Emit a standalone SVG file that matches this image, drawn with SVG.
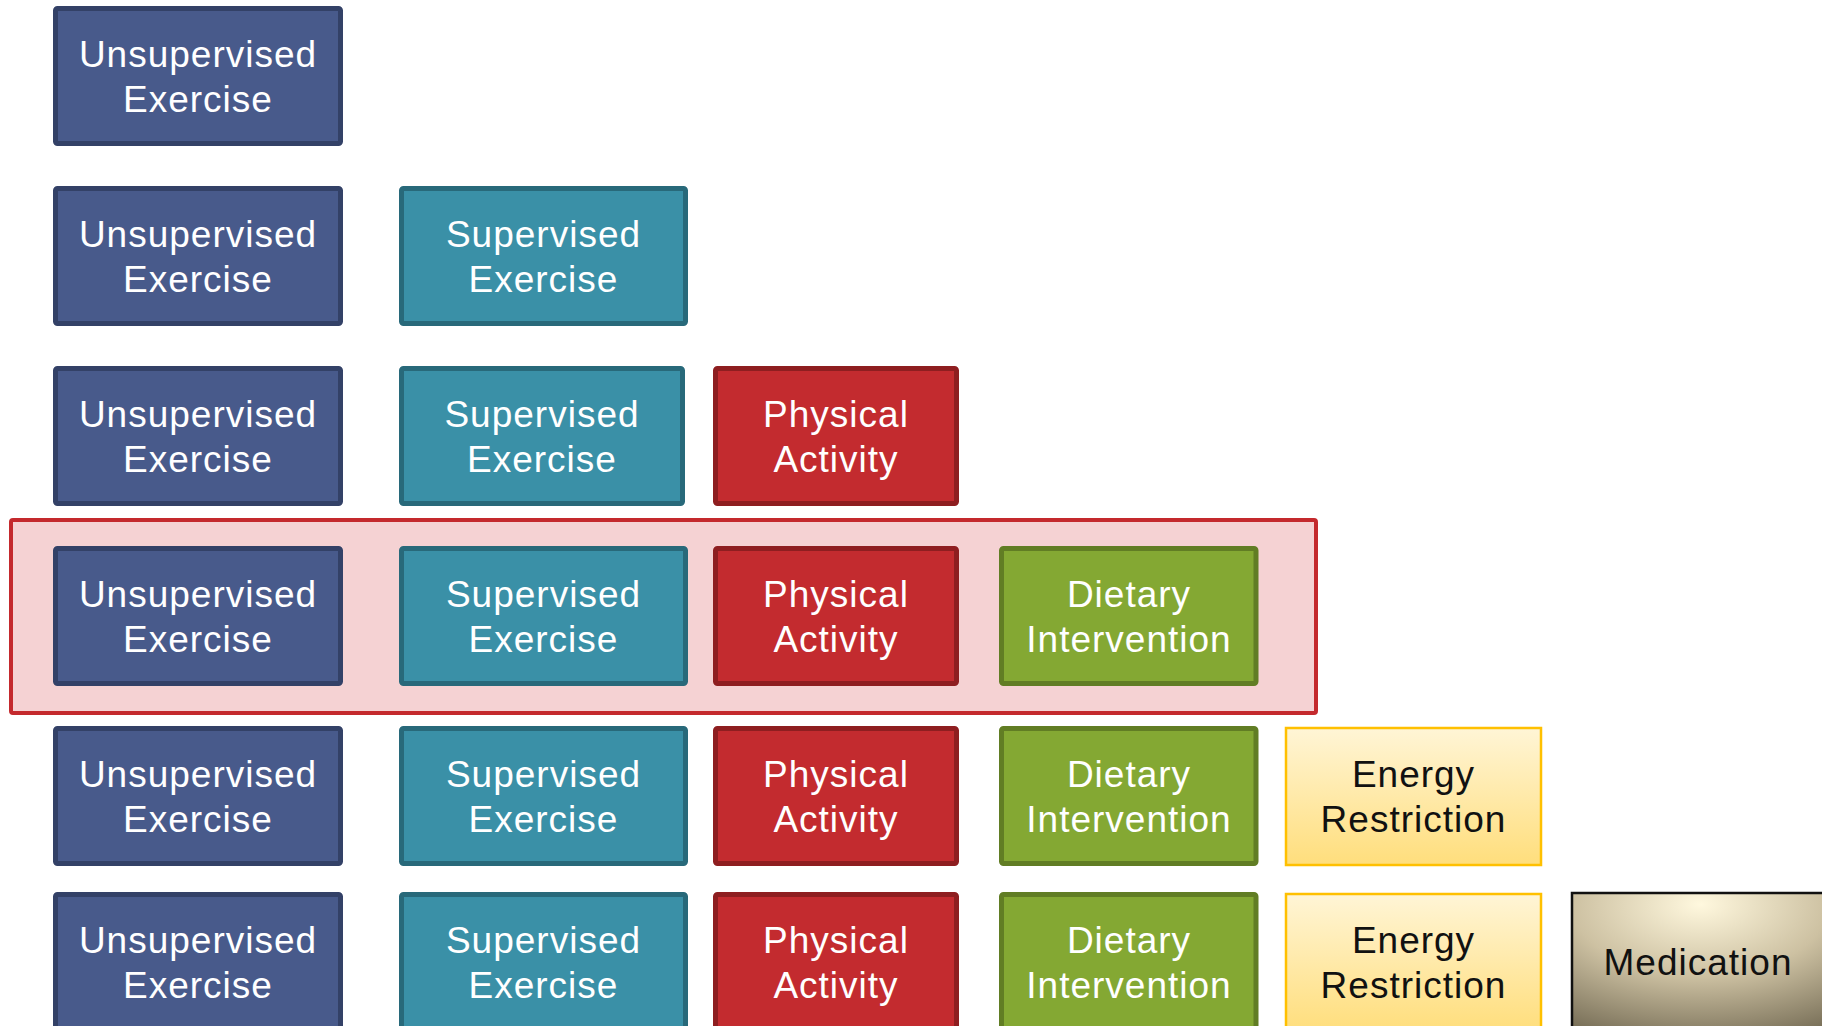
<svg xmlns="http://www.w3.org/2000/svg" width="1822" height="1026" viewBox="0 0 1822 1026">
<defs>
<linearGradient id="gEnergy" x1="0" y1="0" x2="0" y2="1">
<stop offset="0" stop-color="#FFF5D6"/>
<stop offset="1" stop-color="#FFDE7C"/>
</linearGradient>
<radialGradient id="gMed" cx="0.5" cy="0.1" r="1" fx="0.5" fy="0.08">
<stop offset="0" stop-color="#FFF8DE"/>
<stop offset="0.5" stop-color="#CDC1A2"/>
<stop offset="1" stop-color="#766D56"/>
</radialGradient>
<style>
.u{fill:#485A8B;stroke:#334167;stroke-width:5}
.s{fill:#3A90A7;stroke:#28697A;stroke-width:5}
.p{fill:#C32B2F;stroke:#8E1E20;stroke-width:5}
.d{fill:#84A833;stroke:#617D24;stroke-width:5}
.e{fill:url(#gEnergy);stroke:#FFC000;stroke-width:2.5}
.m{fill:url(#gMed);stroke:#111111;stroke-width:2.5}
text{font-family:"Liberation Sans",Arial,sans-serif;font-size:37px;letter-spacing:1px;text-anchor:middle}
.w{fill:#FFFFFF}
.k{fill:#111111}
</style>
</defs>
<rect width="1822" height="1026" fill="#FFFFFF"/>
<g id="highlight">
<rect x="11" y="520" width="1305" height="193" rx="2" fill="#F5D2D3" stroke="#C4292D" stroke-width="4"/>
</g>
<g id="connectors"></g>

<!-- Row 1 -->
<g id="r1-unsup"><rect class="u" x="55.5" y="8.5" width="285" height="135" rx="2"/><text class="w" x="198" y="67">Unsupervised</text><text class="w" x="198" y="112">Exercise</text></g>

<!-- Row 2 -->
<g id="r2-unsup"><rect class="u" x="55.5" y="188.5" width="285" height="135" rx="2"/><text class="w" x="198" y="247">Unsupervised</text><text class="w" x="198" y="292">Exercise</text></g>
<g id="r2-sup"><rect class="s" x="401.5" y="188.5" width="284" height="135" rx="2"/><text class="w" x="543.5" y="247">Supervised</text><text class="w" x="543.5" y="292">Exercise</text></g>

<!-- Row 3 -->
<g id="r3-unsup"><rect class="u" x="55.5" y="368.5" width="285" height="135" rx="2"/><text class="w" x="198" y="427">Unsupervised</text><text class="w" x="198" y="472">Exercise</text></g>
<g id="r3-sup"><rect class="s" x="401.5" y="368.5" width="281" height="135" rx="2"/><text class="w" x="542" y="427">Supervised</text><text class="w" x="542" y="472">Exercise</text></g>
<g id="r3-phys"><rect class="p" x="715.5" y="368.5" width="241" height="135" rx="2"/><text class="w" x="836" y="427">Physical</text><text class="w" x="836" y="472">Activity</text></g>

<!-- Row 4 -->
<g id="r4-unsup"><rect class="u" x="55.5" y="548.5" width="285" height="135" rx="2"/><text class="w" x="198" y="607">Unsupervised</text><text class="w" x="198" y="652">Exercise</text></g>
<g id="r4-sup"><rect class="s" x="401.5" y="548.5" width="284" height="135" rx="2"/><text class="w" x="543.5" y="607">Supervised</text><text class="w" x="543.5" y="652">Exercise</text></g>
<g id="r4-phys"><rect class="p" x="715.5" y="548.5" width="241" height="135" rx="2"/><text class="w" x="836" y="607">Physical</text><text class="w" x="836" y="652">Activity</text></g>
<g id="r4-diet"><rect class="d" x="1001.5" y="548.5" width="254.5" height="135" rx="2"/><text class="w" x="1129" y="607">Dietary</text><text class="w" x="1129" y="652">Intervention</text></g>

<!-- Row 5 -->
<g id="r5-unsup"><rect class="u" x="55.5" y="728.5" width="285" height="135" rx="2"/><text class="w" x="198" y="787">Unsupervised</text><text class="w" x="198" y="832">Exercise</text></g>
<g id="r5-sup"><rect class="s" x="401.5" y="728.5" width="284" height="135" rx="2"/><text class="w" x="543.5" y="787">Supervised</text><text class="w" x="543.5" y="832">Exercise</text></g>
<g id="r5-phys"><rect class="p" x="715.5" y="728.5" width="241" height="135" rx="2"/><text class="w" x="836" y="787">Physical</text><text class="w" x="836" y="832">Activity</text></g>
<g id="r5-diet"><rect class="d" x="1001.5" y="728.5" width="254.5" height="135" rx="2"/><text class="w" x="1129" y="787">Dietary</text><text class="w" x="1129" y="832">Intervention</text></g>
<g id="r5-energy"><rect class="e" x="1286" y="728" width="255" height="137"/><text class="k" x="1413.5" y="787">Energy</text><text class="k" x="1413.5" y="832">Restriction</text></g>

<!-- Row 6 -->
<g id="r6-unsup"><rect class="u" x="55.5" y="894.5" width="285" height="135" rx="2"/><text class="w" x="198" y="953">Unsupervised</text><text class="w" x="198" y="998">Exercise</text></g>
<g id="r6-sup"><rect class="s" x="401.5" y="894.5" width="284" height="135" rx="2"/><text class="w" x="543.5" y="953">Supervised</text><text class="w" x="543.5" y="998">Exercise</text></g>
<g id="r6-phys"><rect class="p" x="715.5" y="894.5" width="241" height="135" rx="2"/><text class="w" x="836" y="953">Physical</text><text class="w" x="836" y="998">Activity</text></g>
<g id="r6-diet"><rect class="d" x="1001.5" y="894.5" width="254.5" height="135" rx="2"/><text class="w" x="1129" y="953">Dietary</text><text class="w" x="1129" y="998">Intervention</text></g>
<g id="r6-energy"><rect class="e" x="1286" y="894" width="255" height="137"/><text class="k" x="1413.5" y="953">Energy</text><text class="k" x="1413.5" y="998">Restriction</text></g>
<g id="r6-med"><rect class="m" x="1572" y="893" width="256" height="140"/><text class="k" x="1698" y="975">Medication</text></g>
</svg>
